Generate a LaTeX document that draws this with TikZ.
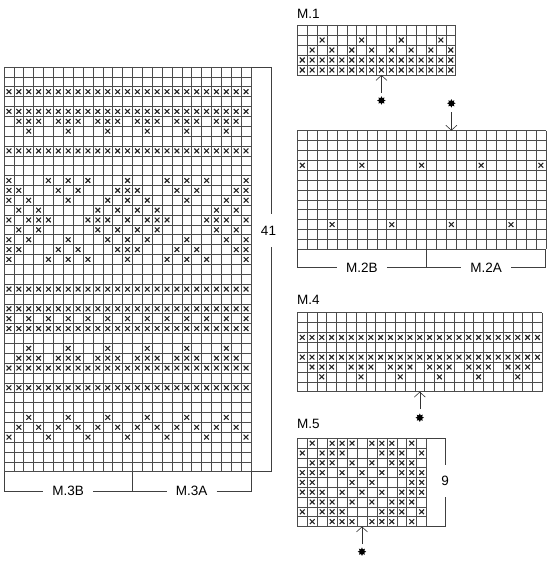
\documentclass[tikz,border=0pt]{standalone}
\usepackage{fontspec}
\setmainfont{Liberation Sans}
\usetikzlibrary{calc}
\usetikzlibrary{shapes.geometric}
\usetikzlibrary{arrows.meta}
\tikzset{>={Straight Barb[length=5pt,width=11pt]}}
\tikzset{gridline/.style={draw=black!70, line width=0.6pt}}
\tikzset{xline/.style={draw=black!85, line width=1.1pt}}
\tikzset{chartlabel/.style={font=\fontsize{13.5}{15}\selectfont, anchor=base west, inner sep=0pt}}
\tikzset{bracketlabel/.style={font=\fontsize{13.5}{15}\selectfont, fill=white, inner xsep=9pt, inner ysep=0pt}}
\tikzset{bracket/.style={draw=black!75, line width=0.8pt}}
\tikzset{arrowline/.style={draw=black!80, line width=0.6pt}}
\tikzset{starmark/.style={star, star points=8, star point ratio=1.7, fill=black, minimum size=8.5pt, inner sep=0pt}}
\tikzset{xmark/.pic={\draw[xline] (-0.24,-0.24) -- (0.24,0.24) (-0.24,0.24) -- (0.24,-0.24);}}

% one row of crosses: #1 = row (from the top), #2 = list of columns
\newcommand{\xrow}[2]{\foreach \c in {#2} {\pic at (\c-0.5,#1-0.5) {xmark};}}
% the squares of a chart: #1 = columns, #2 = rows
\newcommand{\chartgrid}[2]{%
    \foreach \i in {0,...,#1} {\draw[gridline] (\i,0) -- (\i,#2);}
    \foreach \j in {0,...,#2} {\draw[gridline] (0,\j) -- (#1,\j);}}

\begin{document}
\begin{tikzpicture}[x=1pt, y=-1pt]
    \useasboundingbox (0,0) rectangle (550,564);

    % ------- Start M.3 ------- %
    \begin{scope}[shift={(4pt,-67pt)}, x=9.88pt, y=-9.87pt]
        \chartgrid{25}{41}
        \xrow{3}{1,...,25}
        \xrow{5}{1,...,25}
        \xrow{6}{2,3,4,6,7,8,10,11,12,14,15,16,18,19,20,22,23,24}
        \xrow{7}{3,7,...,23}
        \xrow{9}{1,...,25}
        \xrow{12}{1,5,7,9,13,17,19,21,25}
        \xrow{13}{1,2,6,8,12,13,14,18,20,24,25}
        \xrow{14}{1,3,7,11,13,15,19,23,25}
        \xrow{15}{2,4,10,12,14,16,22,24}
        \xrow{16}{1,3,4,5,9,10,11,13,15,16,17,21,22,23,25}
        \xrow{17}{2,4,10,12,14,16,22,24}
        \xrow{18}{1,3,7,11,13,15,19,23,25}
        \xrow{19}{1,2,6,8,12,13,14,18,20,24,25}
        \xrow{20}{1,5,7,9,13,17,19,21,25}
        \xrow{23}{1,...,25}
        \xrow{25}{1,...,25}
        \xrow{26}{1,3,...,25}
        \xrow{27}{1,...,25}
        \xrow{29}{3,7,...,23}
        \xrow{30}{2,3,4,6,7,8,10,11,12,14,15,16,18,19,20,22,23,24}
        \xrow{31}{1,...,25}
        \xrow{33}{1,...,25}
        \xrow{36}{3,7,...,23}
        \xrow{37}{2,4,...,24}
        \xrow{38}{1,5,...,25}
        \coordinate (m3tr) at (25,0);
        \coordinate (m3bl) at (0,41);
        \coordinate (m3bm) at (13,41);
        \coordinate (m3br) at (25,41);
    \end{scope}

    % The brackets below the chart.
    \node [bracketlabel] (m3b) at ($(m3bl)!0.5!(m3bm)+(0,19.3)$) {M.3B};
    \node [bracketlabel] (m3a) at ($(m3bm)!0.5!(m3br)+(0,19.3)$) {M.3A};
    \draw [bracket] (m3bl) -- (m3bl |- m3b) -- (m3b.west);
    \draw [bracket] (m3b.east) -- (m3a.west);
    \draw [bracket] (m3bm) -- (m3bm |- m3b);
    \draw [bracket] (m3a.east) -- (m3br |- m3a) -- (m3br);

    % The bracket with the number of rows.
    \node [bracketlabel, inner xsep=0pt, inner ysep=11.5pt] (m3rows) at (268.5,230.5) {41};
    \draw [bracket] (m3tr) -- ++(20,0) coordinate (m3rt) -- (m3rt |- m3rows.north);
    \draw [bracket] (m3br) -- ++(20,0) coordinate (m3rb) -- (m3rb |- m3rows.south);
    % ------- End M.3 ------- %

    % ------- Start M.1 ------- %
    \node [chartlabel] (m1name) at (297,18.5) {M.1};
    \begin{scope}[shift={(297.3pt,-25pt)}, x=9.9pt, y=-10pt]
        \chartgrid{16}{5}
        \xrow{2}{3,7,11,15}
        \xrow{3}{2,4,...,16}
        \xrow{4}{1,...,16}
        \xrow{5}{1,...,16}
        \coordinate (m1arrow) at (8.5,5);
    \end{scope}
    \node [starmark] (m1star) at ($(m1arrow)+(0,25.5)$) {};
    \draw [->, arrowline, shorten <=3pt] (m1star) -- (m1arrow);
    % ------- End M.1 ------- %

    % ------- Start M.2 ------- %
    \begin{scope}[shift={(297.3pt,-130.7pt)}, x=9.94pt, y=-9.88pt]
        \chartgrid{25}{12}
        \xrow{4}{1,7,13,19,25}
        \xrow{10}{4,10,16,22}
        \coordinate (m2arrow) at (15.5,0);
        \coordinate (m2bl) at (0,12);
        \coordinate (m2bm) at (13,12);
        \coordinate (m2br) at (25,12);
    \end{scope}
    \node [starmark] (m2star) at ($(m2arrow)+(0,-27.4)$) {};
    \draw [->, arrowline, shorten <=4pt] (m2star) -- (m2arrow);

    % The brackets below the chart.
    \node [bracketlabel] (m2b) at ($(m2bl)!0.5!(m2bm)+(0,18.5)$) {M.2B};
    \node [bracketlabel] (m2a) at ($(m2bm)!0.5!(m2br)+(0,18.5)$) {M.2A};
    \draw [bracket] (m2bl) -- (m2bl |- m2b) -- (m2b.west);
    \draw [bracket] (m2b.east) -- (m2a.west);
    \draw [bracket] (m2bm) -- (m2bm |- m2b);
    \draw [bracket] (m2a.east) -- (m2br |- m2a) -- (m2br);
    % ------- End M.2 ------- %

    % ------- Start M.4 ------- %
    \node [chartlabel] (m4name) at (297,304) {M.4};
    \begin{scope}[shift={(297.3pt,-312.7pt)}, x=9.8pt, y=-9.875pt]
        \chartgrid{25}{8}
        \xrow{3}{1,...,25}
        \xrow{5}{1,...,25}
        \xrow{6}{2,3,4,6,7,8,10,11,12,14,15,16,18,19,20,22,23,24}
        \xrow{7}{3,7,...,23}
        \coordinate (m4arrow) at (12.5,8);
    \end{scope}
    \node [starmark] (m4star) at ($(m4arrow)+(0,26)$) {};
    \draw [->, arrowline, shorten <=4pt] (m4star) -- (m4arrow);
    % ------- End M.4 ------- %

    % ------- Start M.5 ------- %
    \node [chartlabel] (m5name) at (297,428.5) {M.5};
    \begin{scope}[shift={(297.3pt,-438.3pt)}, x=9.95pt, y=-9.8pt]
        \chartgrid{13}{9}
        \xrow{1}{2,4,5,6,8,9,10,12}
        \xrow{2}{1,3,4,5,9,10,11,13}
        \xrow{3}{2,3,4,6,8,10,11,12}
        \xrow{4}{1,2,3,5,7,9,11,12,13}
        \xrow{5}{1,2,6,8,12,13}
        \xrow{6}{1,2,3,5,7,9,11,12,13}
        \xrow{7}{2,3,4,6,8,10,11,12}
        \xrow{8}{1,3,4,5,9,10,11,13}
        \xrow{9}{2,4,5,6,8,9,10,12}
        \coordinate (m5arrow) at (6.5,9);
        \coordinate (m5tr) at (13,0);
        \coordinate (m5br) at (13,9);
    \end{scope}
    \node [starmark] (m5star) at ($(m5arrow)+(0,25.2)$) {};
    \draw [->, arrowline, shorten <=3pt] (m5star) -- (m5arrow);

    % The bracket with the number of rows.
    \node [bracketlabel, inner xsep=0pt, inner ysep=11pt] (m5rows) at (445,481) {9};
    \draw [bracket] (m5tr) -- ++(19,0) coordinate (m5rt) -- (m5rt |- m5rows.north);
    \draw [bracket] (m5br) -- ++(19,0) coordinate (m5rb) -- (m5rb |- m5rows.south);
    % ------- End M.5 ------- %
\end{tikzpicture}
\end{document}
